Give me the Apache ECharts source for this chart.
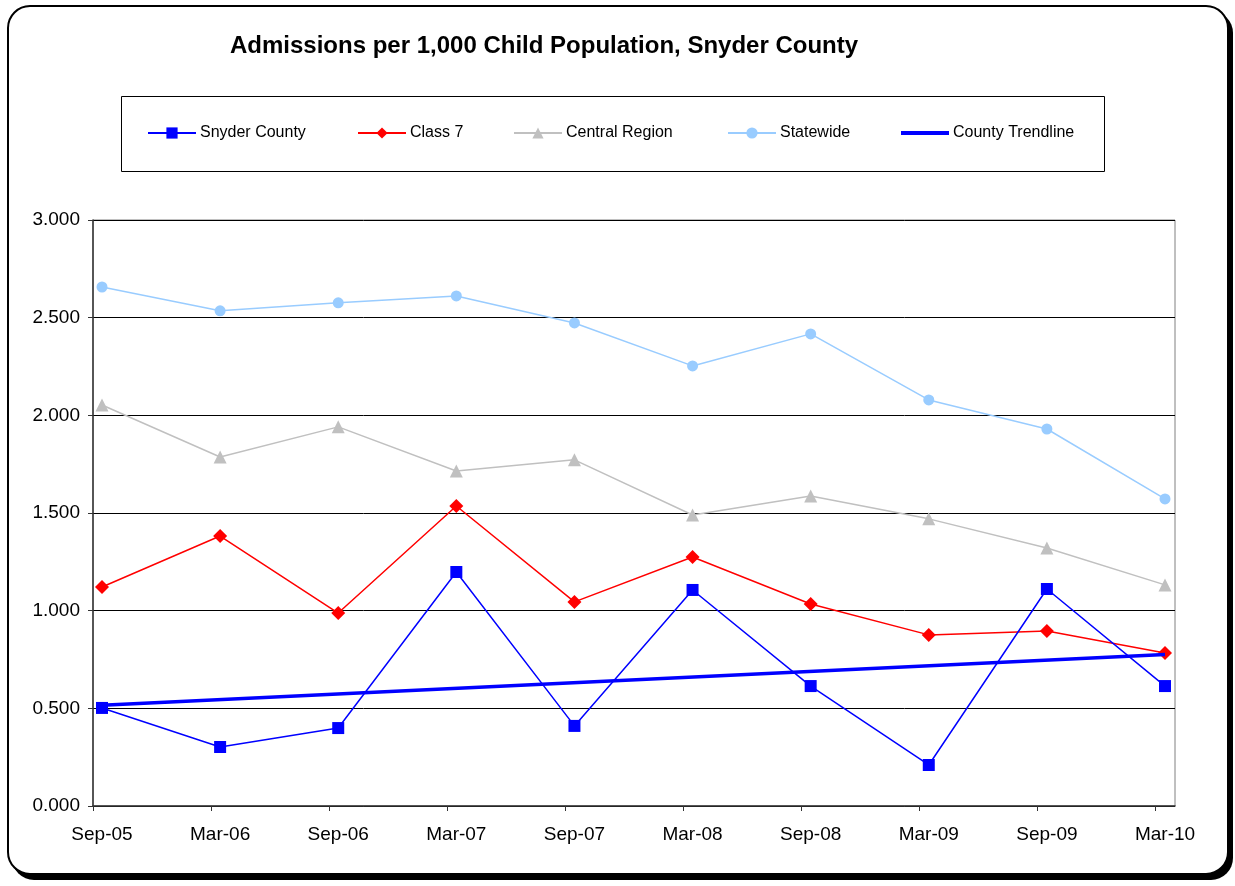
<!DOCTYPE html>
<html><head><meta charset="utf-8">
<script src="https://cdn.jsdelivr.net/npm/echarts@6/dist/echarts.min.js"></script>
<style>html,body{margin:0;padding:0;background:#fff}#c{width:1235px;height:886px}</style>
</head><body><div id="c"></div>
<script>
var categories = ['Sep-05','Mar-06','Sep-06','Mar-07','Sep-07','Mar-08','Sep-08','Mar-09','Sep-09','Mar-10'];
var snyderCounty = [0.502,0.302,0.399,1.198,0.410,1.106,0.614,0.210,1.111,0.614];
var class7 = [1.121,1.382,0.988,1.536,1.045,1.275,1.034,0.876,0.896,0.783];
var centralRegion = [2.053,1.787,1.941,1.715,1.772,1.490,1.587,1.470,1.321,1.132];
var statewide = [2.657,2.535,2.576,2.611,2.473,2.253,2.417,2.079,1.930,1.572];
var trendStart = 0.516, trendEnd = 0.776;
var legendNames = ['Snyder County','Class 7','Central Region','Statewide','County Trendline'];

var trendline = categories.map(function(c,i){ return i===0 ? trendStart : (i===categories.length-1 ? trendEnd : null); });

var chart = echarts.init(document.getElementById('c'), null, {renderer:'canvas'});
var FONT = 'Liberation Sans, Arial, sans-serif';
var legendLefts = [147,357,513,727,899];
var legends = legendNames.map(function(n,i){
  var item = {name:n};
  if (n === 'County Trendline') { item.itemStyle = {opacity:0}; item.lineStyle = {width:4}; }
  return {left:legendLefts[i], top:125, padding:0, itemWidth:48, itemHeight:14, itemGap:4,
    textStyle:{fontFamily:FONT, fontSize:16, color:'#000', padding:[0,0,0,-1]}, data:[item]};
});
chart.setOption({
  animation:false,
  backgroundColor:'#fff',
  textStyle:{fontFamily:FONT},
  title:{text:'Admissions per 1,000 Child Population, Snyder County', left:225, top:29,
    textStyle:{fontFamily:FONT, fontSize:24, fontWeight:'bold', color:'#000'}},
  graphic:[
    {type:'rect', shape:{x:12,y:11,width:1221,height:869,r:22}, z:-11,
     style:{fill:'#000'}},
    {type:'rect', shape:{x:8,y:6,width:1220,height:868,r:22}, z:-10,
     style:{fill:'#fff', stroke:'#000', lineWidth:2}},
    {type:'rect', shape:{x:121.5,y:96.5,width:983,height:75}, z:-5,
     style:{fill:'#fff', stroke:'#000', lineWidth:1}}
  ],
  legend:legends,
  grid:[
    {left:93, right:60, top:220, bottom:80, show:true, borderColor:'#808080', borderWidth:1, backgroundColor:'transparent'},
    {left:102, right:70, top:220, bottom:80}
  ],
  xAxis:[
    {type:'value', gridIndex:0, min:0, max:9.17, interval:1,
     axisLine:{show:true, lineStyle:{color:'#333', width:1.5}},
     axisTick:{show:true, length:5, lineStyle:{color:'#333'}, customValues:[0,1,2,3,4,5,6,7,8,9]},
     axisLabel:{show:false}, splitLine:{show:false}},
    {type:'category', gridIndex:1, data:categories, boundaryGap:false,
     axisLine:{show:false}, axisTick:{show:false},
     axisLabel:{fontFamily:FONT, fontSize:19, color:'#000', margin:19}}
  ],
  yAxis:[
    {type:'value', gridIndex:0, min:0, max:3, interval:0.5,
     axisLine:{show:true, lineStyle:{color:'#333', width:1.5}},
     axisTick:{show:true, length:5, lineStyle:{color:'#333'}},
     axisLabel:{fontFamily:FONT, fontSize:19, color:'#000', margin:13, formatter:function(v){return v.toFixed(3);}},
     splitLine:{show:true, lineStyle:{color:'#000', width:1}}},
    {type:'value', gridIndex:1, min:0, max:3, interval:0.5, show:false, splitLine:{show:false}}
  ],
  series:[
    {name:'Statewide', type:'line', xAxisIndex:1, yAxisIndex:1, data:statewide, z:3,
     symbol:'circle', symbolSize:11, itemStyle:{color:'#99CCFF'}, lineStyle:{color:'#99CCFF', width:1.5}},
    {name:'Central Region', type:'line', xAxisIndex:1, yAxisIndex:1, data:centralRegion, z:3,
     symbol:'triangle', symbolSize:13, itemStyle:{color:'#C0C0C0'}, lineStyle:{color:'#C0C0C0', width:1.5}},
    {name:'Class 7', type:'line', xAxisIndex:1, yAxisIndex:1, data:class7, z:4,
     symbol:'diamond', symbolSize:14, itemStyle:{color:'#FF0000'}, lineStyle:{color:'#FF0000', width:1.5}},
    {name:'County Trendline', type:'line', xAxisIndex:1, yAxisIndex:1, data:trendline, connectNulls:true, z:5,
     symbol:'none', itemStyle:{color:'#0000FF'}, lineStyle:{color:'#0000FF', width:3.5}},
    {name:'Snyder County', type:'line', xAxisIndex:1, yAxisIndex:1, data:snyderCounty, z:6,
     symbol:'rect', symbolSize:12, itemStyle:{color:'#0000FF'}, lineStyle:{color:'#0000FF', width:1.5}}
  ]
});
</script></body></html>
